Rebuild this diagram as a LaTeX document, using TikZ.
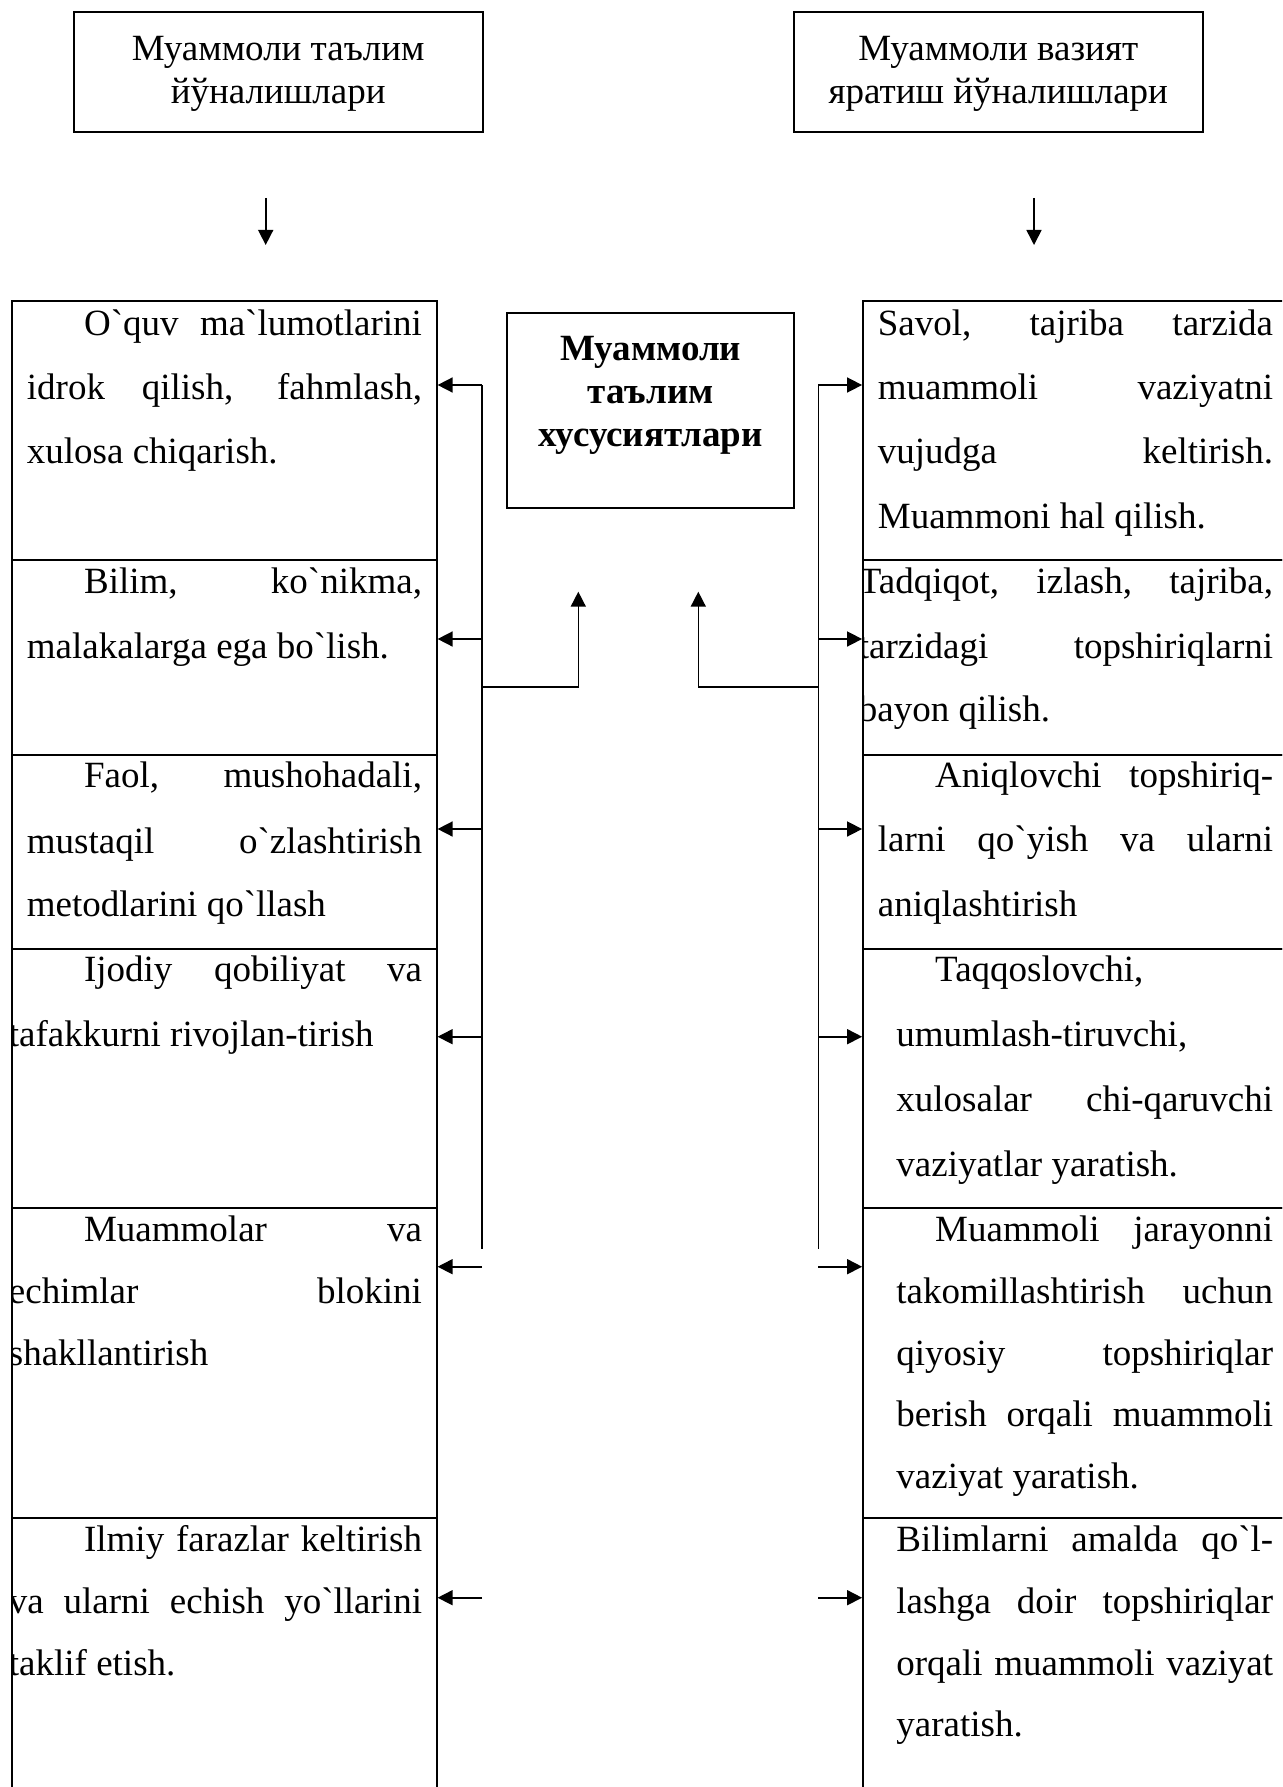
\documentclass[tikz,border=0pt]{standalone}
\usepackage{fontspec}
\setmainfont{Liberation Serif}[Ligatures=TeXOff]
\usetikzlibrary{arrows.meta,fit}
\tikzset{
  txt/.style={font=\fontsize{18.5}{22}\selectfont, inner sep=0pt, anchor=base west},
  ctxt/.style={font=\fontsize{18.5}{22}\selectfont, inner sep=0pt, anchor=base},
  btxt/.style={font=\fontsize{18.5}{22}\selectfont\bfseries, inner sep=0pt, anchor=base},
  box/.style={draw=black, line width=0.9pt, inner sep=0pt},
  conn/.style={draw=black, line width=0.8pt},
  arr/.style={conn, -{Triangle[length=7.5pt,width=7.5pt]}}
}
\begin{document}
\begin{tikzpicture}[x=0.5pt,y=-0.5pt]
\clip (0,0) rectangle (1282,1787);
\fill[white] (0,0) rectangle (1282,1787);

% top boxes
\node[box, fit={(74,11.7) (482.7,132.3)}] (TL) {};
\node[box, fit={(794,11.7) (1202.7,132.3)}] (TR) {};
\node[ctxt] (tl1) at (278.3,60.5) {Муаммоли таълим};
\node[ctxt] (tl2) at (278.3,104) {йўналишлари};
\node[ctxt] (tr1) at (998.3,60.5) {Муаммоли вазият};
\node[ctxt] (tr2) at (998.3,104) {яратиш йўналишлари};

% down arrows
\coordinate (d1s) at (265.7,198);
\coordinate (d1e) at (265.7,245);
\coordinate (d2s) at (1034,198);
\coordinate (d2e) at (1034,245);
\draw[arr] (d1s) -- (d1e);
\draw[arr] (d2s) -- (d2e);

% centre box
\node[box, fit={(507.3,312.7) (794,507.7)}] (C) {};
\node[btxt] (c1) at (650.7,360) {Муаммоли};
\node[btxt] (c2) at (650.7,403) {таълим};
\node[btxt] (c3) at (650.7,446) {хусусиятлари};

% left column boxes
\node[box, fit={(12,300.7) (436.7,560)}] (L1) {};
\node[box, fit={(12,560) (436.7,755)}] (L2) {};
\node[box, fit={(12,755) (436.7,949)}] (L3) {};
\node[box, fit={(12,949) (436.7,1208)}] (L4) {};
\node[box, fit={(12,1208) (436.7,1518)}] (L5) {};
\node[box, fit={(12,1518) (436.7,1810)}] (L6) {};

% right column boxes
\node[box, fit={(863,300.7) (1300,560)}] (R1) {};
\node[box, fit={(863,560) (1300,755)}] (R2) {};
\node[box, fit={(863,755) (1300,949)}] (R3) {};
\node[box, fit={(863,949) (1300,1208)}] (R4) {};
\node[box, fit={(863,1208) (1300,1518)}] (R5) {};
\node[box, fit={(863,1518) (1300,1810)}] (R6) {};

% left texts
\begin{scope}
\clip (12,300.7) rectangle (436.7,1787);
\node[txt] (l11) at (83.7,335) {\makebox[168.95pt][s]{O`quv ma`lumotlarini}};
\node[txt] (l12) at (26.5,399) {\makebox[197.55pt][s]{idrok qilish, fahmlash,}};
\node[txt] (l13) at (26.5,463.3) {xulosa chiqarish.};
\node[txt] (l21) at (83.7,593.3) {\makebox[168.95pt][s]{Bilim, ko`nikma,}};
\node[txt] (l22) at (26.5,658.3) {malakalarga ega bo`lish.};
\node[txt] (l31) at (83.7,787.5) {\makebox[168.95pt][s]{Faol, mushohadali,}};
\node[txt] (l32) at (26.5,853.3) {\makebox[197.55pt][s]{mustaqil o`zlashtirish}};
\node[txt] (l33) at (26.5,916.7) {metodlarini qo`llash};
\node[txt] (l41) at (83.7,981.7) {\makebox[168.95pt][s]{Ijodiy qobiliyat va}};
\node[txt] (l42) at (8.5,1046.7) {tafakkurni rivojlan-tirish};
\node[txt] (l51) at (83.7,1241.7) {\makebox[168.95pt][s]{Muammolar va}};
\node[txt] (l52) at (8.5,1303.3) {\makebox[206.55pt][s]{echimlar blokini}};
\node[txt] (l53) at (8.5,1365) {shakllantirish};
\node[txt] (l61) at (83.7,1551.7) {\makebox[168.95pt][s]{Ilmiy farazlar keltirish}};
\node[txt] (l62) at (8.5,1613.3) {\makebox[206.55pt][s]{va ularni echish yo`llarini}};
\node[txt] (l63) at (8.5,1675) {taklif etish.};
\end{scope}

% right texts
\begin{scope}
\clip (863,300.7) rectangle (1282,1787);
\node[txt] (r11) at (877.5,335) {\makebox[197.6pt][s]{Savol, tajriba tarzida}};
\node[txt] (r12) at (877.5,399) {\makebox[197.6pt][s]{muammoli vaziyatni}};
\node[txt] (r13) at (877.5,463.3) {\makebox[197.6pt][s]{vujudga keltirish.}};
\node[txt] (r14) at (877.5,528.3) {Muammoni hal qilish.};
\node[txt] (r21) at (858.5,593.3) {\makebox[207.1pt][s]{Tadqiqot, izlash, tajriba,}};
\node[txt] (r22) at (858.5,658.3) {\makebox[207.1pt][s]{tarzidagi topshiriqlarni}};
\node[txt] (r23) at (858.5,721.7) {bayon qilish.};
\node[txt] (r31) at (934.8,787.5) {\makebox[168.95pt][s]{Aniqlovchi topshiriq-}};
\node[txt] (r32) at (877.5,851.7) {\makebox[197.6pt][s]{larni qo`yish va ularni}};
\node[txt] (r33) at (877.5,916.7) {aniqlashtirish};
\node[txt] (r41) at (934.8,981.7) {Taqqoslovchi,};
\node[txt] (r42) at (896,1046.7) {umumlash-tiruvchi,};
\node[txt] (r43) at (896,1111.7) {\makebox[188.35pt][s]{xulosalar chi-qaruvchi}};
\node[txt] (r44) at (896,1176.7) {vaziyatlar yaratish.};
\node[txt] (r51) at (934.8,1241.7) {\makebox[168.95pt][s]{Muammoli jarayonni}};
\node[txt] (r52) at (896,1303.3) {\makebox[188.35pt][s]{takomillashtirish uchun}};
\node[txt] (r53) at (896,1365) {\makebox[188.35pt][s]{qiyosiy topshiriqlar}};
\node[txt] (r54) at (896,1426.7) {\makebox[188.35pt][s]{berish orqali muammoli}};
\node[txt] (r55) at (896,1488.3) {vaziyat yaratish.};
\node[txt] (r61) at (896,1551.7) {\makebox[188.35pt][s]{Bilimlarni amalda qo`l-}};
\node[txt] (r62) at (896,1613.3) {\makebox[188.35pt][s]{lashga doir topshiriqlar}};
\node[txt] (r63) at (896,1675) {\makebox[188.35pt][s]{orqali muammoli vaziyat}};
\node[txt] (r64) at (896,1736.7) {yaratish.};
\end{scope}

% left connectors
\coordinate (la1) at (482,385);
\coordinate (la2) at (482,639);
\coordinate (la3) at (482,829);
\coordinate (la4) at (482,1036.7);
\coordinate (la5) at (482,1266.7);
\coordinate (la6) at (482,1597.7);
\coordinate (lvb) at (482,1249);
\coordinate (lbr) at (482,686.7);
\coordinate (ltip) at (578.3,591.7);
\draw[conn] (la1) -- (lvb);
\draw[arr] (la1) -- (la1 -| L1.east);
\draw[arr] (la2) -- (la2 -| L2.east);
\draw[arr] (la3) -- (la3 -| L3.east);
\draw[arr] (la4) -- (la4 -| L4.east);
\draw[arr] (la5) -- (la5 -| L5.east);
\draw[arr] (la6) -- (la6 -| L6.east);
\draw[arr] (lbr) -| (ltip);

% right connectors
\coordinate (ra1) at (818.3,385);
\coordinate (ra2) at (818.3,639);
\coordinate (ra3) at (818.3,829);
\coordinate (ra4) at (818.3,1036.7);
\coordinate (ra5) at (818.3,1266.7);
\coordinate (ra6) at (818.3,1597.7);
\coordinate (rvb) at (818.3,1249);
\coordinate (rbr) at (818.3,686.7);
\coordinate (rtip) at (698.3,591.7);
\draw[conn] (ra1) -- (rvb);
\draw[arr] (ra1) -- (ra1 -| R1.west);
\draw[arr] (ra2) -- (ra2 -| R2.west);
\draw[arr] (ra3) -- (ra3 -| R3.west);
\draw[arr] (ra4) -- (ra4 -| R4.west);
\draw[arr] (ra5) -- (ra5 -| R5.west);
\draw[arr] (ra6) -- (ra6 -| R6.west);
\draw[arr] (rbr) -| (rtip);
\end{tikzpicture}
\end{document}
